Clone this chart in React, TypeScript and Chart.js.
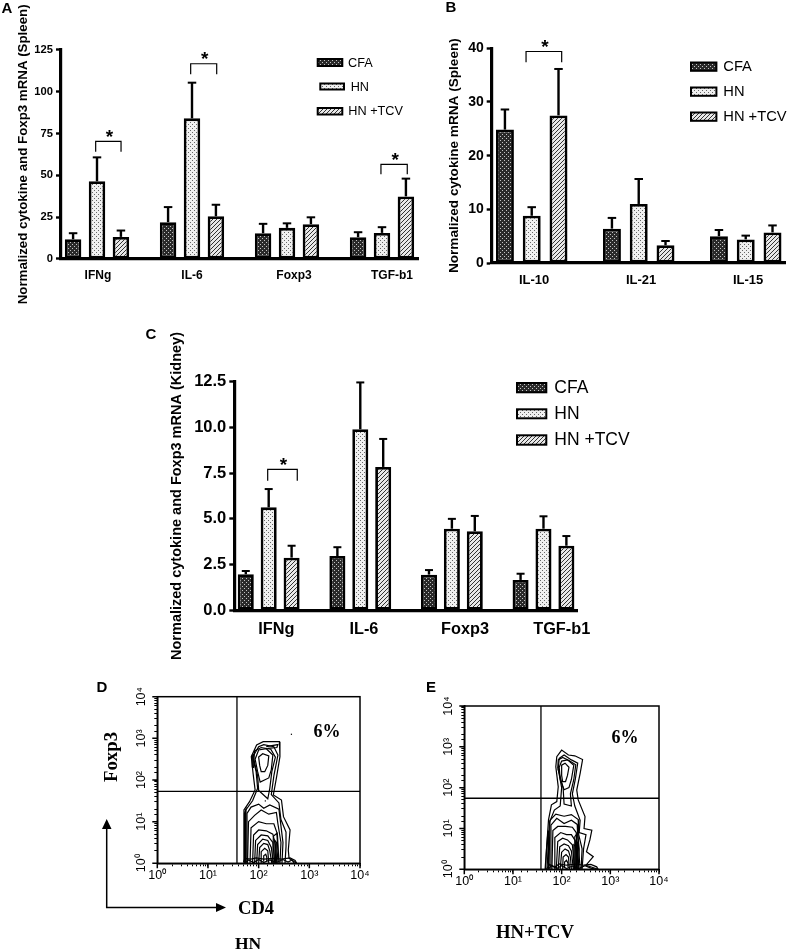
import React, { useEffect, useRef } from "react";
import { Chart, registerables } from "chart.js";

Chart.register(...registerables);

const SANS = '"Liberation Sans", Arial, sans-serif';
const SERIF = '"Liberation Serif", "Times New Roman", serif';

// ---- Panel A ----
const aCategories = ["IFNg", "IL-6", "Foxp3", "TGF-b1"];
const aCFA = [11.8, 22, 15.4, 13];
const aHN = [46.4, 84, 18.6, 15.6];
const aTCV = [13.2, 25.5, 20.8, 37.4];
const aCFATop = [15.4, 31, 21, 16];
const aHNTop = [60.7, 105.3, 21.3, 19];
const aTCVTop = [17, 32.4, 24.9, 48];
const aBrackets = [
  [-0.014, 0.253, 70.3, 64],
  [0.986, 1.26, 116.6, 110.3],
  [2.989, 3.266, 56.5, 50.6],
];
const aLabelAt = [0.01, 1.0, 2.074, 3.105];

// ---- Panel B ----
const bCategories = ["IL-10", "IL-21", "IL-15"];
const bCFA = [24.85, 6.4, 5.0];
const bHN = [8.8, 11, 4.4];
const bTCV = [27.5, 3.3, 5.7];
const bCFATop = [28.6, 8.4, 6.15];
const bHNTop = [10.4, 15.65, 5.1];
const bTCVTop = [36.15, 4.1, 7.0];
const bBrackets = [[-0.053, 0.28, 39.4, 37.4]];
const bLabelAt = [0.022, 1.022, 2.022];

// ---- Panel C ----
const cCategories = ["IFNg", "IL-6", "Foxp3", "TGF-b1"];
const cCFA = [1.97, 2.97, 1.95, 1.66];
const cHN = [5.63, 9.9, 4.46, 4.46];
const cTCV = [2.88, 7.84, 4.32, 3.53];
const cCFATop = [2.15, 3.45, 2.2, 2.0];
const cHNTop = [6.63, 12.46, 5.0, 5.14];
const cTCVTop = [3.53, 9.37, 5.16, 4.06];
const cBrackets = [[-0.011, 0.312, 7.71, 7.09]];
const cLabelAt = [0.083, 1.04, 2.143, 3.199];

const seriesNames = ["CFA", "HN", "HN +TCV"];

// ---- Flow panels, contours in decades (log10 of the channel) ----
type P = number[];
const dGate = [1.572, 1.728];
const dDots: P[] = [[2.645, 3.1], [2.13, 1.5]];
const dContours: P[][] = [
  [[1.7, 0], [1.71, 1.28], [1.82, 1.48], [1.93, 1.76], [1.89, 2.16], [1.855, 2.56], [1.96, 2.84], [2.09, 2.92], [2.41, 2.92], [2.42, 2.56], [2.355, 2.08], [2.29, 1.64], [2.45, 1.52], [2.49, 1.12], [2.62, 0.8], [2.585, 0.32], [2.6, 0.12], [2.75, 0]],
  [[1.74, 0], [1.74, 1.27], [1.88, 1.5], [1.98, 1.8], [1.95, 2.2], [1.88, 2.55], [2.0, 2.8], [2.1, 2.85], [2.3, 2.8], [2.38, 2.6], [2.3, 2.1], [2.25, 1.65], [2.4, 1.45], [2.44, 1.05], [2.54, 0.75], [2.54, 0.4], [2.52, 0]],
  [[1.9, 2.52], [1.92, 2.7], [2.05, 2.78], [2.24, 2.74], [2.33, 2.55], [2.26, 2.2], [2.22, 1.8], [2.18, 1.55], [2.0, 1.75], [1.98, 2.1], [1.9, 2.52]],
  [[1.87, 2.3], [1.875, 2.6], [1.91, 2.62], [1.9, 2.3], [1.87, 2.3]],
  [[1.98, 2.2], [1.93, 2.5], [2, 2.72], [2.15, 2.75], [2.28, 2.6], [2.25, 2.25], [2.2, 2.05], [2.03, 1.95], [1.98, 2.2]],
  [[2.02, 2.35], [2.0, 2.55], [2.08, 2.63], [2.2, 2.58], [2.18, 2.35], [2.12, 2.2], [2.05, 2.2], [2.02, 2.35]],
  [[2.15, 2.8], [2.38, 2.85], [2.36, 2.78], [2.18, 2.76]],
  [[1.72, 0], [1.72, 1.2], [1.75, 1.3], [1.75, 0]],
  [[1.76, 0], [1.77, 1.2], [1.85, 1.35], [2.0, 1.42], [2.1, 1.32], [2.22, 1.4], [2.4, 1.3], [2.44, 0.9], [2.48, 0.5], [2.46, 0]],
  [[1.78, 0], [1.8, 1.0], [1.92, 1.15], [2.05, 1.28], [2.2, 1.18], [2.35, 1.22], [2.38, 0.95], [2.44, 0.5], [2.42, 0]],
  [[1.83, 0], [1.85, 0.85], [2, 1.0], [2.15, 0.95], [2.3, 0.95], [2.37, 0.7], [2.4, 0]],
  [[1.88, 0], [1.9, 0.68], [2, 0.8], [2.15, 0.78], [2.28, 0.7], [2.33, 0.45], [2.36, 0]],
  [[1.92, 0], [1.94, 0.55], [2.05, 0.68], [2.18, 0.66], [2.28, 0.5], [2.32, 0]],
  [[1.96, 0], [1.98, 0.45], [2.08, 0.58], [2.18, 0.55], [2.25, 0.38], [2.29, 0]],
  [[2.0, 0], [2.02, 0.38], [2.1, 0.48], [2.18, 0.45], [2.22, 0.3], [2.26, 0]],
  [[2.05, 0], [2.05, 0.28], [2.12, 0.36], [2.18, 0.3], [2.2, 0]],
  [[2.09, 0.05], [2.1, 0.18], [2.14, 0.22], [2.16, 0.15], [2.16, 0.05]],
  [[2.28, 0], [2.29, 0.65], [2.36, 0.72], [2.38, 0.3], [2.36, 0]],
  [[2.31, 0], [2.32, 0.55], [2.35, 0.5], [2.34, 0]],
  [[1.7, 0.03], [1.73, 0.12], [1.85, 0.1], [1.95, 0.13], [2.1, 0.1], [2.3, 0.12], [2.45, 0.1], [2.62, 0.13], [2.72, 0.07], [2.75, 0]],
  [[1.72, 0], [1.8, 0.08], [1.9, 0.02], [2.0, 0.09], [2.1, 0.02], [2.22, 0.08], [2.35, 0.02], [2.48, 0.09], [2.58, 0.03], [2.66, 0.08], [2.7, 0]],
];
const eGate = [1.575, 1.74];
const eDots: P[] = [];
const eContours: P[][] = [
  [[1.66, 0], [1.73, 1.21], [1.79, 1.58], [1.9, 1.66], [1.93, 2.02], [1.88, 2.51], [1.9, 2.76], [2.0, 2.92], [2.14, 2.8], [2.27, 2.78], [2.43, 2.69], [2.38, 2.35], [2.31, 1.94], [2.34, 1.7], [2.48, 1.29], [2.46, 1.0], [2.62, 0.96], [2.58, 0.72], [2.51, 0.43], [2.65, 0.31], [2.5, 0.1], [2.75, 0]],
  [[1.7, 0], [1.75, 1.15], [1.85, 1.45], [1.97, 1.55], [2.0, 2.0], [1.93, 2.45], [1.95, 2.72], [2.05, 2.8], [2.2, 2.68], [2.33, 2.6], [2.28, 2.2], [2.22, 1.85], [2.27, 1.55], [2.38, 1.2], [2.36, 0.9], [2.5, 0.85], [2.45, 0.5], [2.42, 0]],
  [[1.92, 2.48], [1.93, 2.68], [2.02, 2.74], [2.16, 2.66], [2.29, 2.56], [2.25, 2.2], [2.18, 1.85], [2.2, 1.55], [2.05, 1.6], [2.03, 2.0], [1.92, 2.48]],
  [[1.97, 2.2], [1.95, 2.5], [2, 2.65], [2.12, 2.68], [2.25, 2.55], [2.2, 2.2], [2.15, 2.0], [2.05, 1.95], [1.97, 2.2]],
  [[2.0, 2.3], [2.0, 2.55], [2.07, 2.6], [2.15, 2.5], [2.12, 2.3], [2.08, 2.15], [2.02, 2.15], [2.0, 2.3]],
  [[1.74, 0], [1.76, 1.2], [1.88, 1.35], [2.05, 1.3], [2.2, 1.34], [2.34, 1.22], [2.35, 0.85], [2.42, 0.5], [2.4, 0]],
  [[1.77, 0], [1.78, 1.08], [1.9, 1.25], [2.05, 1.12], [2.2, 1.2], [2.32, 1.1], [2.33, 0.8], [2.38, 0]],
  [[1.8, 0], [1.82, 0.95], [1.92, 1.05], [2.08, 1.05], [2.22, 1.03], [2.3, 0.9], [2.34, 0]],
  [[1.85, 0], [1.86, 0.78], [1.98, 0.9], [2.1, 0.85], [2.2, 0.85], [2.28, 0.7], [2.31, 0]],
  [[1.89, 0], [1.92, 0.68], [2.02, 0.76], [2.12, 0.72], [2.22, 0.6], [2.27, 0]],
  [[1.93, 0], [1.96, 0.55], [2.05, 0.62], [2.14, 0.58], [2.2, 0.45], [2.24, 0]],
  [[1.97, 0], [2.0, 0.42], [2.07, 0.5], [2.14, 0.45], [2.18, 0.3], [2.2, 0]],
  [[2.02, 0], [2.03, 0.3], [2.09, 0.36], [2.14, 0.3], [2.16, 0]],
  [[2.06, 0.05], [2.06, 0.18], [2.1, 0.22], [2.13, 0.15], [2.13, 0.05]],
  [[2.26, 0], [2.27, 0.8], [2.33, 0.9], [2.36, 0.5], [2.34, 0]],
  [[2.29, 0], [2.3, 0.7], [2.33, 0.65], [2.32, 0]],
  [[2.25, 0], [2.25, 0.6], [2.3, 0.55], [2.29, 0]],
  [[1.67, 0], [1.69, 0.5], [1.72, 0.95], [1.74, 0.4], [1.72, 0]],
  [[1.69, 0], [1.75, 0.12], [1.85, 0.05], [1.95, 0.13], [2.1, 0.1], [2.3, 0.13], [2.45, 0.1], [2.6, 0.12], [2.72, 0.06], [2.75, 0]],
  [[1.72, 0], [1.8, 0.1], [1.9, 0.02], [2.0, 0.09], [2.1, 0.02], [2.22, 0.08], [2.35, 0.02], [2.48, 0.09], [2.6, 0.03], [2.7, 0]],
];

// ---- Fill patterns ----
function tile(size: number, paint: (c: CanvasRenderingContext2D) => void) {
  const t = document.createElement("canvas");
  t.width = size;
  t.height = size;
  paint(t.getContext("2d") as CanvasRenderingContext2D);
  return (t.getContext("2d") as CanvasRenderingContext2D).createPattern(t, "repeat") as CanvasPattern;
}
function makePatterns() {
  const dark = tile(4, (c) => {
    c.fillStyle = "#2a2a2a";
    c.fillRect(0, 0, 4, 4);
    c.fillStyle = "#c4c4c4";
    c.fillRect(0, 0, 1, 1);
    c.fillRect(2, 2, 1, 1);
  });
  const dots = tile(4, (c) => {
    c.fillStyle = "#f0f0f0";
    c.fillRect(0, 0, 4, 4);
    c.fillStyle = "#666";
    c.fillRect(0, 0, 1, 1);
    c.fillRect(2, 2, 1, 1);
  });
  const stripes = tile(4, (c) => {
    c.fillStyle = "#e8e8e8";
    c.fillRect(0, 0, 4, 4);
    c.fillStyle = "#333";
    c.fillRect(3, 0, 1, 1);
    c.fillRect(2, 1, 1, 1);
    c.fillRect(1, 2, 1, 1);
    c.fillRect(0, 3, 1, 1);
  });
  return [dark, dots, stripes];
}

type Txt = { s: string; x: number; y: number; font: string; rot?: number; align?: CanvasTextAlign };
type Leg = { x: number; w: number; y: number; h: number; tx: number; ty: number };

type BarCfg = {
  cats: string[];
  vals: number[][];
  tops: number[][];
  labelAt: number[];
  brackets: number[][];
  L: number; R: number; T: number; B: number;
  titleLeft: number;
  xMin: number; xMax: number;
  yMax: number; yStep: number; yFmt?: (v: number) => string;
  cat: number; bar: number;
  title: string; titleSize: number;
  tickSize: number; xSize: number; xPad: number;
  legend: Leg[]; legendFont: string;
  texts: Txt[];
  capW: number;
};

function drawText(ctx: CanvasRenderingContext2D, t: Txt) {
  ctx.save();
  ctx.fillStyle = "#000";
  ctx.font = t.font;
  ctx.textAlign = t.align || "center";
  ctx.textBaseline = "middle";
  ctx.translate(t.x, t.y);
  if (t.rot) ctx.rotate(t.rot);
  ctx.fillText(t.s, 0, 0);
  ctx.restore();
}

function barChart(cv: HTMLCanvasElement, cfg: BarCfg) {
  const pats = makePatterns();
  const H = 40;
  const extras = {
    id: "extras",
    afterDatasetsDraw(chart: any) {
      const ctx: CanvasRenderingContext2D = chart.ctx;
      const xs = chart.scales.x;
      const ys = chart.scales.y;
      ctx.save();
      ctx.strokeStyle = "#000";
      // error bars, from the library's bar elements
      cfg.tops.forEach((arr, d) => {
        const meta = chart.getDatasetMeta(d);
        arr.forEach((top, i) => {
          const el = meta.data[i];
          const py = ys.getPixelForValue(top);
          ctx.lineWidth = 2.4;
          ctx.beginPath();
          ctx.moveTo(el.x, el.y);
          ctx.lineTo(el.x, py);
          ctx.stroke();
          ctx.lineWidth = 2;
          ctx.beginPath();
          ctx.moveTo(el.x - cfg.capW / 2, py);
          ctx.lineTo(el.x + cfg.capW / 2, py);
          ctx.stroke();
        });
      });
      // significance brackets
      ctx.lineWidth = 1.2;
      cfg.brackets.forEach(([x0, x1, yT, yB]) => {
        const a = xs.getPixelForValue(x0);
        const b = xs.getPixelForValue(x1);
        const t = ys.getPixelForValue(yT);
        const u = ys.getPixelForValue(yB);
        ctx.beginPath();
        ctx.moveTo(a, u);
        ctx.lineTo(a, t);
        ctx.lineTo(b, t);
        ctx.lineTo(b, u);
        ctx.stroke();
        drawText(ctx, { s: "*", x: (a + b) / 2 + 1, y: t - 4, font: `bold 19px ${SANS}` });
      });
      // legend
      cfg.legend.forEach((l, i) => {
        ctx.fillStyle = "#000";
        ctx.fillRect(l.x, l.y, l.w, l.h);
        ctx.fillStyle = pats[i];
        ctx.fillRect(l.x + 2, l.y + 2, l.w - 4, l.h - 4);
        drawText(ctx, { s: seriesNames[i], x: l.tx, y: l.ty, font: cfg.legendFont, align: "left" });
      });
      cfg.texts.forEach((t) => drawText(ctx, t));
      ctx.restore();
    },
  };
  return new Chart(cv, {
    type: "bar",
    data: {
      datasets: cfg.vals.map((v, d) => ({
        label: seriesNames[d],
        data: v.map((y, i) => ({ x: i, y })),
        backgroundColor: pats[d],
        borderColor: "#000",
        borderWidth: 2.8,
        borderSkipped: false,
        categoryPercentage: cfg.cat,
        barPercentage: cfg.bar,
      })),
    },
    plugins: [extras],
    options: {
      responsive: false,
      animation: false,
      events: [],
      layout: {
        autoPadding: false,
        padding: { left: cfg.titleLeft, right: 791 - cfg.R, top: cfg.T, bottom: 952 - cfg.B - H },
      },
      plugins: { legend: { display: false }, tooltip: { enabled: false }, title: { display: false } },
      scales: {
        x: {
          type: "linear",
          offset: false,
          min: cfg.xMin,
          max: cfg.xMax,
          afterFit: (s: any) => { s.height = H; },
          afterBuildTicks: (s: any) => { s.ticks = cfg.labelAt.map((value) => ({ value })); },
          grid: { display: false, drawTicks: false, offset: false },
          border: { display: true, color: "#000", width: 3.2 },
          ticks: {
            autoSkip: false,
            maxRotation: 0,
            padding: cfg.xPad,
            color: "#000",
            font: { family: SANS, size: cfg.xSize, weight: "bold" },
            callback: (_v: any, i: number) => cfg.cats[i],
          },
        },
        y: {
          min: 0,
          max: cfg.yMax,
          afterFit: (s: any) => { s.width = cfg.L - cfg.titleLeft; },
          grid: { display: true, drawOnChartArea: false, drawTicks: true, tickLength: 5, tickWidth: 2.4, tickColor: "#000" },
          border: { display: true, color: "#000", width: 3.2 },
          ticks: {
            stepSize: cfg.yStep,
            padding: 3,
            color: "#000",
            font: { family: SANS, size: cfg.tickSize, weight: "bold" },
            callback: (v: any) => (cfg.yFmt ? cfg.yFmt(Number(v)) : String(v)),
          },
          title: {
            display: true,
            text: cfg.title,
            color: "#000",
            padding: 0,
            font: { family: SANS, size: cfg.titleSize, weight: "bold", lineHeight: 1.2 },
          },
        },
      },
    } as any,
  });
}

type FlowCfg = {
  contours: P[][]; gate: number[]; dots: P[];
  L: number; R: number; T: number; B: number;
  texts: Txt[];
  arrows?: boolean;
};
const sup: Record<number, string> = { 1: "10⁰", 10: "10¹", 100: "10²", 1000: "10³", 10000: "10⁴" };

function flowChart(cv: HTMLCanvasElement, cfg: FlowCfg) {
  const dec = (v: number) => Math.pow(10, v);
  const H = 30;
  const W = 40;
  const lineDs = (pts: P[], w: number) => ({
    data: pts.map(([a, b]) => ({ x: dec(a), y: dec(b) })),
    showLine: true,
    borderColor: "#000",
    borderWidth: w,
    pointRadius: 0,
    tension: 0,
    fill: false,
  });
  const extras = {
    id: "flowExtras",
    afterDatasetsDraw(chart: any) {
      const ctx: CanvasRenderingContext2D = chart.ctx;
      const a = chart.chartArea;
      const xs = chart.scales.x;
      const ys = chart.scales.y;
      ctx.save();
      ctx.strokeStyle = "#000";
      ctx.lineWidth = 1.5;
      ctx.strokeRect(a.left, a.top, a.right - a.left, a.bottom - a.top);
      // longer tick marks at the decades
      Object.keys(sup).forEach((k) => {
        const v = Number(k);
        const px = xs.getPixelForValue(v);
        const py = ys.getPixelForValue(v);
        ctx.beginPath();
        ctx.moveTo(px, a.bottom);
        ctx.lineTo(px, a.bottom + 5);
        ctx.moveTo(a.left - 5, py);
        ctx.lineTo(a.left, py);
        ctx.stroke();
      });
      cfg.dots.forEach(([p, q]) => {
        ctx.fillStyle = "#000";
        ctx.fillRect(xs.getPixelForValue(dec(p)) - 0.5, ys.getPixelForValue(dec(q)) - 0.5, 1.2, 1.2);
      });
      if (cfg.arrows) {
        ctx.lineWidth = 1.5;
        ctx.fillStyle = "#000";
        ctx.beginPath();
        ctx.moveTo(106.7, 825);
        ctx.lineTo(106.7, 907.5);
        ctx.lineTo(220, 907.5);
        ctx.stroke();
        ctx.beginPath();
        ctx.moveTo(106.7, 819);
        ctx.lineTo(102, 829);
        ctx.lineTo(111.5, 829);
        ctx.closePath();
        ctx.moveTo(226, 907.5);
        ctx.lineTo(216, 903);
        ctx.lineTo(216, 912);
        ctx.closePath();
        ctx.fill();
      }
      cfg.texts.forEach((t) => drawText(ctx, t));
      ctx.restore();
    },
  };
  const tickFont = { family: SANS, size: 12.5 };
  return new Chart(cv, {
    type: "scatter",
    data: {
      datasets: [
        ...cfg.contours.map((c) => lineDs(c, 1.2)),
        lineDs([[cfg.gate[0], 0], [cfg.gate[0], 4]], 1.3),
        lineDs([[0, cfg.gate[1]], [4, cfg.gate[1]]], 1.3),
      ],
    },
    plugins: [extras],
    options: {
      responsive: false,
      animation: false,
      events: [],
      layout: {
        autoPadding: false,
        padding: { left: cfg.L - W, right: 791 - cfg.R, top: cfg.T, bottom: 952 - cfg.B - H },
      },
      plugins: { legend: { display: false }, tooltip: { enabled: false } },
      scales: {
        x: {
          type: "logarithmic",
          min: 1,
          max: 10000,
          afterFit: (s: any) => { s.height = H; },
          grid: { display: true, drawOnChartArea: false, drawTicks: true, tickLength: 3, tickColor: "#000", tickWidth: 1 },
          border: { display: true, color: "#000", width: 1.5 },
          ticks: {
            autoSkip: false, maxRotation: 0, padding: 2, color: "#000", font: tickFont,
            callback: (v: any) => sup[Number(v)] || "",
          },
        },
        y: {
          type: "logarithmic",
          min: 1,
          max: 10000,
          afterFit: (s: any) => { s.width = W; },
          grid: { display: true, drawOnChartArea: false, drawTicks: true, tickLength: 3, tickColor: "#000", tickWidth: 1 },
          border: { display: true, color: "#000", width: 1.5 },
          ticks: {
            autoSkip: false, minRotation: 90, maxRotation: 90, padding: 3, crossAlign: "center", color: "#000", font: tickFont,
            callback: (v: any) => sup[Number(v)] || "",
          },
        },
      },
    } as any,
  });
}

const letter = (s: string, x: number, y: number): Txt => ({ s, x, y, font: `bold 15px ${SANS}` });
const serifBold = (size: number) => `bold ${size}px ${SERIF}`;

const panelA: BarCfg = {
  cats: aCategories, vals: [aCFA, aHN, aTCV], tops: [aCFATop, aHNTop, aTCVTop], labelAt: aLabelAt, brackets: aBrackets,
  L: 61, R: 418, T: 49.7, B: 259, titleLeft: 15, xMin: -0.379, xMax: 3.379,
  yMax: 125, yStep: 25, cat: 0.763, bar: 0.69,
  title: "Normalized cytokine and Foxp3 mRNA (Spleen)", titleSize: 13.3,
  tickSize: 11.2, xSize: 12, xPad: 9, capW: 8.5, legendFont: `12.7px ${SANS}`,
  legend: [
    { x: 316.7, w: 26.6, y: 58, h: 9, tx: 348, ty: 63 },
    { x: 319.3, w: 25.7, y: 82.5, h: 8, tx: 350.7, ty: 87 },
    { x: 316.7, w: 26.6, y: 107, h: 8.5, tx: 348.3, ty: 111 },
  ],
  texts: [letter("A", 7, 9)],
};
const panelB: BarCfg = {
  cats: bCategories, vals: [bCFA, bHN, bTCV], tops: [bCFATop, bHNTop, bTCVTop], labelAt: bLabelAt, brackets: bBrackets,
  L: 491.7, R: 785, T: 48.3, B: 263, titleLeft: 446.5, xMin: -0.374, xMax: 2.367,
  yMax: 40, yStep: 10, cat: 0.751, bar: 0.67,
  title: "Normalized cytokine mRNA (Spleen)", titleSize: 13.6,
  tickSize: 14, xSize: 13, xPad: 10, capW: 8.5, legendFont: `14.7px ${SANS}`,
  legend: [
    { x: 690, w: 27.4, y: 61.5, h: 10.3, tx: 723.3, ty: 67 },
    { x: 690, w: 27.4, y: 86.5, h: 10.3, tx: 723.3, ty: 92 },
    { x: 690, w: 27.4, y: 111.5, h: 10.3, tx: 723.3, ty: 117 },
  ],
  texts: [letter("B", 451, 8)],
};
const panelC: BarCfg = {
  cats: cCategories, vals: [cCFA, cHN, cTCV], tops: [cCFATop, cHNTop, cTCVTop], labelAt: cLabelAt, brackets: cBrackets,
  L: 234.3, R: 577, T: 381.7, B: 610.3, titleLeft: 168.5, xMin: -0.3755, xMax: 3.366,
  yMax: 12.5, yStep: 2.5, yFmt: (v) => v.toFixed(1), cat: 0.784, bar: 0.7,
  title: "Normalized cytokine and Foxp3 mRNA (Kidney)", titleSize: 14.5,
  tickSize: 16.5, xSize: 16.3, xPad: 9, capW: 8, legendFont: `17.5px ${SANS}`,
  legend: [
    { x: 516, w: 31.3, y: 382, h: 11.3, tx: 554.3, ty: 388 },
    { x: 516, w: 31.3, y: 408.3, h: 11, tx: 554.3, ty: 414.5 },
    { x: 516, w: 31.3, y: 434.3, h: 11.4, tx: 554.3, ty: 440 },
  ],
  texts: [letter("C", 151, 335)],
};
const panelD: FlowCfg = {
  contours: dContours, gate: dGate, dots: dDots, L: 157.3, R: 360, T: 696.7, B: 863.3, arrows: true,
  texts: [
    letter("D", 102, 688),
    { s: "6%", x: 327, y: 732, font: serifBold(18) },
    { s: "Foxp3", x: 112, y: 757, font: serifBold(18.8), rot: -Math.PI / 2 },
    { s: "CD4", x: 256, y: 909, font: serifBold(18.5) },
    { s: "HN", x: 248, y: 944, font: serifBold(17.5) },
  ],
};
const panelE: FlowCfg = {
  contours: eContours, gate: eGate, dots: eDots, L: 464.3, R: 659, T: 706, B: 869.3,
  texts: [
    letter("E", 431, 688),
    { s: "6%", x: 625, y: 738, font: serifBold(18) },
    { s: "HN+TCV", x: 535, y: 933, font: serifBold(18.7) },
  ],
};

export default function App() {
  const a = useRef<HTMLCanvasElement>(null);
  const b = useRef<HTMLCanvasElement>(null);
  const c = useRef<HTMLCanvasElement>(null);
  const d = useRef<HTMLCanvasElement>(null);
  const e = useRef<HTMLCanvasElement>(null);
  useEffect(() => {
    const charts = [
      barChart(a.current as HTMLCanvasElement, panelA),
      barChart(b.current as HTMLCanvasElement, panelB),
      barChart(c.current as HTMLCanvasElement, panelC),
      flowChart(d.current as HTMLCanvasElement, panelD),
      flowChart(e.current as HTMLCanvasElement, panelE),
    ];
    return () => charts.forEach((ch) => ch.destroy());
  }, []);
  const st: React.CSSProperties = { position: "absolute", left: 0, top: 0 };
  return (
    <div style={{ position: "absolute", left: 0, top: 0, width: 791, height: 952, background: "#fff", overflow: "hidden" }}>
      <canvas ref={a} width={791} height={952} style={st} />
      <canvas ref={b} width={791} height={952} style={st} />
      <canvas ref={c} width={791} height={952} style={st} />
      <canvas ref={d} width={791} height={952} style={st} />
      <canvas ref={e} width={791} height={952} style={st} />
    </div>
  );
}
